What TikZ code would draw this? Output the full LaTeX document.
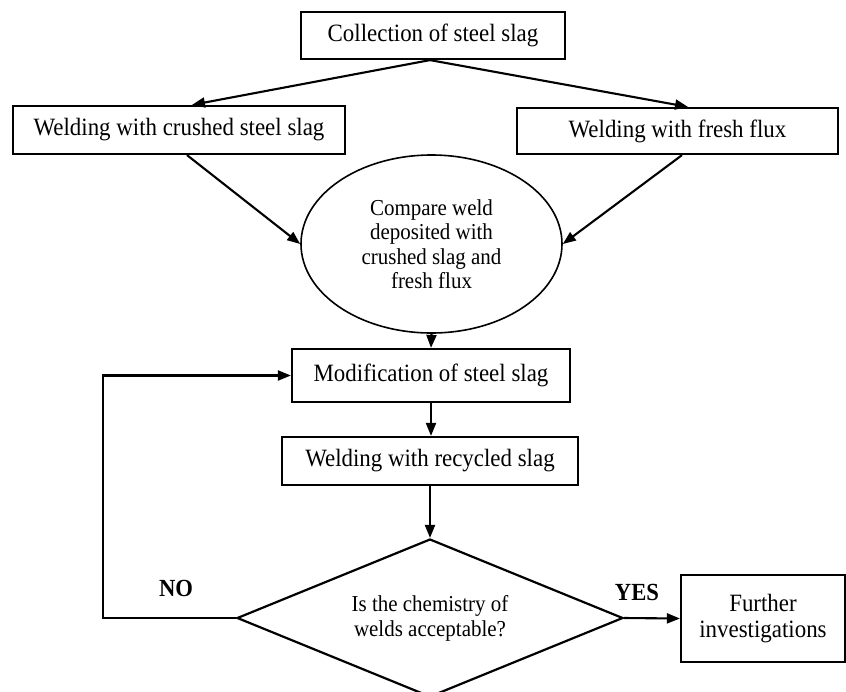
\documentclass[tikz,border=0pt]{standalone}
\usepackage{fontspec}
\setmainfont{Liberation Serif}[FakeStretch=0.92]
\usetikzlibrary{shapes.geometric,arrows.meta}
\begin{document}
\begin{tikzpicture}[x=1pt,y=-1pt,
  box/.style={draw,line width=2.2pt,inner sep=0pt,align=center,font=\fontsize{24.9}{27}\selectfont},
  arr/.style={line width=2.1pt,-{Triangle[length=13pt,width=10pt]}},
  lab/.style={font=\fontsize{24.6}{27}\selectfont\bfseries}]
\useasboundingbox (0,0) rectangle (846,691);
\node[box,minimum width=264pt,minimum height=47pt] (coll) at (433,35.5) {Collection of steel slag};
\node[box,minimum width=332pt,minimum height=48pt] (crush) at (179,130) {Welding with crushed steel slag};
\node[box,minimum width=321pt,minimum height=46pt] (fresh) at (677.5,131) {Welding with fresh flux};
\node[draw,ellipse,line width=1.6pt,inner sep=0pt,minimum width=261pt,minimum height=178pt,align=center,font=\fontsize{22.8}{24.5}\selectfont] (cmp) at (431.5,244) {Compare weld\\deposited with\\crushed slag and\\fresh flux};
\node[box,minimum width=278pt,minimum height=53pt] (mod) at (431,375.5) {Modification of steel slag};
\node[box,minimum width=296pt,minimum height=48pt] (rec) at (430,461) {Welding with recycled slag};
\node[draw,diamond,aspect=2.44,line width=2.2pt,inner sep=0pt,minimum width=386pt,minimum height=158pt,align=center,font=\fontsize{22.8}{25}\selectfont] (dec) at (430,618) {Is the chemistry of\\welds acceptable?};
\node[box,minimum width=164pt,minimum height=87pt,font=\fontsize{24.9}{26}\selectfont] (fur) at (763,618.5) {Further\\investigations};
\node[lab] (no) at (176,588) {NO};
\node[lab] (yes) at (637,592) {YES};
\draw[arr] ([xshift=-3pt]coll.south) -- ([xshift=13pt]crush.north);
\draw[arr] ([xshift=-3pt]coll.south) -- ([xshift=10.5pt]fresh.north);
\draw[arr] ([xshift=8pt]crush.south) -- (cmp.west);
\draw[arr] ([xshift=4.5pt]fresh.south) -- (cmp.east);
\draw[arr] (cmp.south) -- (mod.north);
\draw[arr] (mod.south) -- ([xshift=1pt]rec.north);
\draw[arr] (rec.south) -- (dec.north);
\draw[arr] (dec.east) -- (fur.west);
\draw[arr] (dec.west) -- ++(-133,0) |- (mod.west);
\end{tikzpicture}
\end{document}
